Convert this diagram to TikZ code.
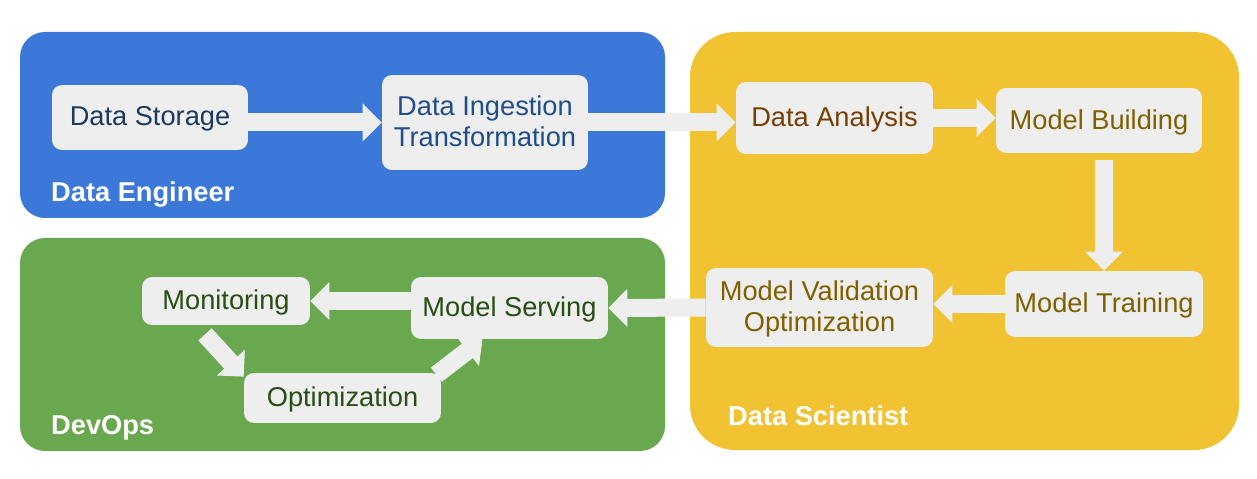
\documentclass[tikz,border=0pt]{standalone}
\usepackage{fontspec}
\setmainfont{Liberation Sans}
\usetikzlibrary{arrows.meta,calc}

\definecolor{engblue}{HTML}{3C78D8}
\definecolor{opsgreen}{HTML}{6AA84F}
\definecolor{sciyellow}{HTML}{F1C232}
\definecolor{boxgray}{HTML}{EEEEEE}
\definecolor{navytext}{HTML}{1B3A5E}
\definecolor{bluetext}{HTML}{1F4E89}
\definecolor{browntext}{HTML}{783F04}
\definecolor{olivetext}{HTML}{7F6000}
\definecolor{greentext}{HTML}{274E13}

\begin{document}
\begin{tikzpicture}
  [x=0.02cm,y=-0.02cm,
   every node/.style={font=\fontsize{15.5}{17.6}\selectfont,align=center},
   StepBox/.style={fill=boxgray,rounded corners=0.2cm,inner sep=0pt,text depth=0.05cm},
   RoleLabel/.style={anchor=west,text=white,font=\fontsize{15.5}{17.6}\selectfont\bfseries}]
 \tikzset{FlowArrow/.style={draw=boxgray,line width=0.36cm,-{Triangle[width=0.74cm,length=0.38cm]}}}
 \useasboundingbox (0,0) rectangle (1257,479);
  % role areas
  \fill[engblue,rounded corners=0.5cm] (20,32) rectangle (665,218);
  \fill[opsgreen,rounded corners=0.5cm] (20,238) rectangle (665,451);
  \fill[sciyellow,rounded corners=0.9cm] (690,32) rectangle (1239,450);
  \node[RoleLabel] (eng) at (45,195) {Data Engineer};
  \node[RoleLabel] (ops) at (45,428) {DevOps};
  \node[RoleLabel] (sci) at (722,416) {Data Scientist};

  % steps
  \node[StepBox,text=navytext,minimum width=3.92cm,minimum height=1.30cm] (ds) at (150,117.5) {Data Storage};
  \node[StepBox,text=bluetext,minimum width=4.12cm,minimum height=1.90cm] (di) at (485,122.5) {Data Ingestion\\Transformation};
  \node[StepBox,text=browntext,minimum width=3.94cm,minimum height=1.44cm] (da) at (834.5,118) {Data Analysis};
  \node[StepBox,text=olivetext,minimum width=4.12cm,minimum height=1.30cm] (mb) at (1099,120.5) {Model Building};
  \node[StepBox,text=olivetext,minimum width=3.96cm,minimum height=1.32cm] (mt) at (1104,304) {Model Training};
  \node[StepBox,text=olivetext,minimum width=4.54cm,minimum height=1.58cm] (mv) at (819.5,307.5) {Model Validation\\Optimization};
  \node[StepBox,text=greentext,minimum width=3.94cm,minimum height=1.24cm] (ms) at (509.5,308) {Model Serving};
  \node[StepBox,text=greentext,minimum width=3.36cm,minimum height=0.96cm] (mon) at (226,301) {Monitoring};
  \node[StepBox,text=greentext,minimum width=3.94cm,minimum height=1.00cm] (opt) at (342.5,398) {Optimization};

  \coordinate (mb-out) at ($(mb.south -| mt.north)+(0,7)$);
  \coordinate (mon-out) at ($(mon.south)+(-21,9)$);
  \coordinate (opt-in) at ($(opt.north west)+(0,4)$);
  \coordinate (opt-out) at ($(opt.north east)+(-5,2)$);
  \coordinate (ms-in) at ($(ms.south)+(-27,0)$);

 \foreach \from/\to in {ds.east |- di.west/di.west,
                        di.east/di.east -| da.west,
                        da.east/da.east -| mb.west,
                        mb-out/mt.north,
                        mt.west/mt.west -| mv.east,
                        mv.west/ms.east,
                        ms.west |- mon.east/mon.east,
                        mon-out/opt-in,
                        opt-out/ms-in}
    \draw[FlowArrow] (\from) -- (\to);

\end{tikzpicture}
\end{document}
